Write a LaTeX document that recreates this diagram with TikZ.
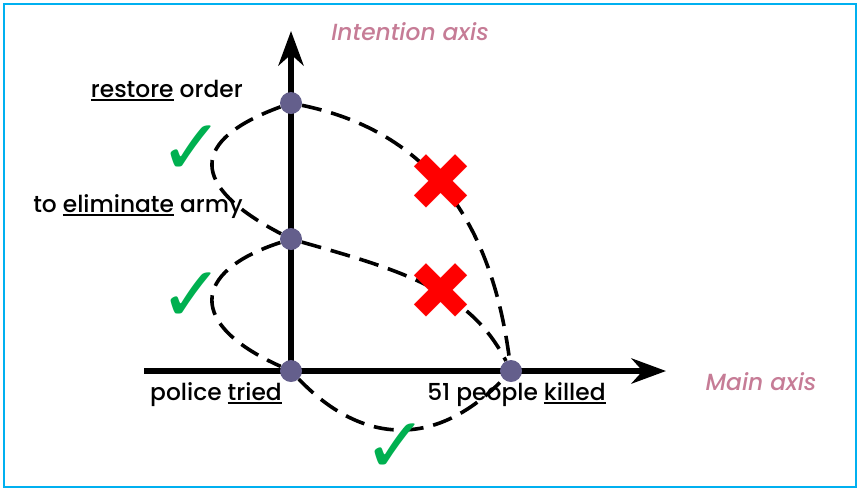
\documentclass[tikz,border=0pt]{standalone}
\usepackage{fontspec}
\setmainfont{Poppins}[UprightFont=* Medium, ItalicFont=* Medium Italic]
\newfontfamily\symfont{DejaVu Sans}
\usetikzlibrary{arrows.meta}
\colorlet{axiscol}{black}
\definecolor{framecol}{RGB}{0,176,240}
\definecolor{dotcol}{RGB}{100,95,140}
\definecolor{namecol}{RGB}{198,124,150}
\definecolor{okcol}{RGB}{0,176,80}
\definecolor{nocol}{RGB}{255,0,0}
\newcommand{\uword}[1]{\setbox0\hbox{#1}\rlap{\rule[-3.2pt]{\wd0}{1.5pt}}\box0\relax}
\tikzset{
  every node/.style={font=\fontsize{17.5}{22}\selectfont},
  event/.style={circle, fill=dotcol, inner sep=0pt, minimum size=16.5pt},
  label/.style={inner sep=0pt, text=black},
  axisname/.style={inner sep=0pt, text=namecol, font=\fontsize{17.5}{22}\selectfont\itshape},
  link/.style={line width=2.7pt, dash pattern=on 15pt off 7.5pt},
  okmark/.style={inner sep=0pt, text=okcol, font=\fontsize{58}{58}\selectfont\symfont},
  nomark/.style={inner sep=0pt, text=nocol, font=\fontsize{60}{60}\selectfont\symfont},
}

\begin{document}
\begin{tikzpicture}[x=0.75pt, y=-0.75pt, >=Stealth]

  % Frame.
  \useasboundingbox (0,0) rectangle (859,490);
  \draw[framecol, line width=2pt] (4,4) rectangle (856,487);

  % Axes.
  \coordinate (origin) at (291,371);
  \coordinate (xstart) at (144,371);
  \coordinate (xtip) at (666,371);
  \coordinate (ytip) at (291,31);
  \draw[-{Stealth[length=26pt, width=19pt]}, line width=3.8pt, axiscol]
    (xstart) -- (xtip);
  \draw[-{Stealth[length=26pt, width=19pt]}, line width=3.8pt, axiscol]
    (origin) -- (ytip);

  % Axis names.
  \node[axisname, anchor=base] (yname) at (410,40) {Intention axis};
  \node[axisname, anchor=base] (xname) at (761,390) {Main axis};

  % Events.
  \node[event] (restore) at (291,103) {};
  \node[event] (elim) at (291,239) {};
  \node[event] (police) at (origin) {};
  \node[event] (killed) at (511,371) {};

  % Event labels.
  \node[label, anchor=base east] (restorelab) at (243,97) {\uword{restore} order};
  \node[label, anchor=base east] (elimlab) at (243,212) {to \uword{eliminate} army};
  \node[label, anchor=base east] (policelab) at (282,400) {police \uword{tried}};
  \node[label, anchor=base west] (killedlab) at (427,400) {51 people \uword{killed}};

  % Links between events.
  \draw[link] (restore) .. controls (190,140) and (188,185) .. (elim);
  \draw[link] (elim) .. controls (190,272) and (188,325) .. (police);
  \draw[link] (restore) .. controls (420,130) and (490,210) .. (killed);
  \draw[link] (elim) .. controls (400,270) and (470,290) .. (killed);
  \draw[link] (police) .. controls (364,447) and (438,447) .. (killed);

  % Marks.
  \node[okmark] (ok1) at (192,150) {✓};
  \node[okmark] (ok2) at (192,297) {✓};
  \node[okmark] (ok3) at (396,448) {✓};
  \node[nomark] (no1) at (441,183) {✖};
  \node[nomark] (no2) at (441,292) {✖};

\end{tikzpicture}
\end{document}
